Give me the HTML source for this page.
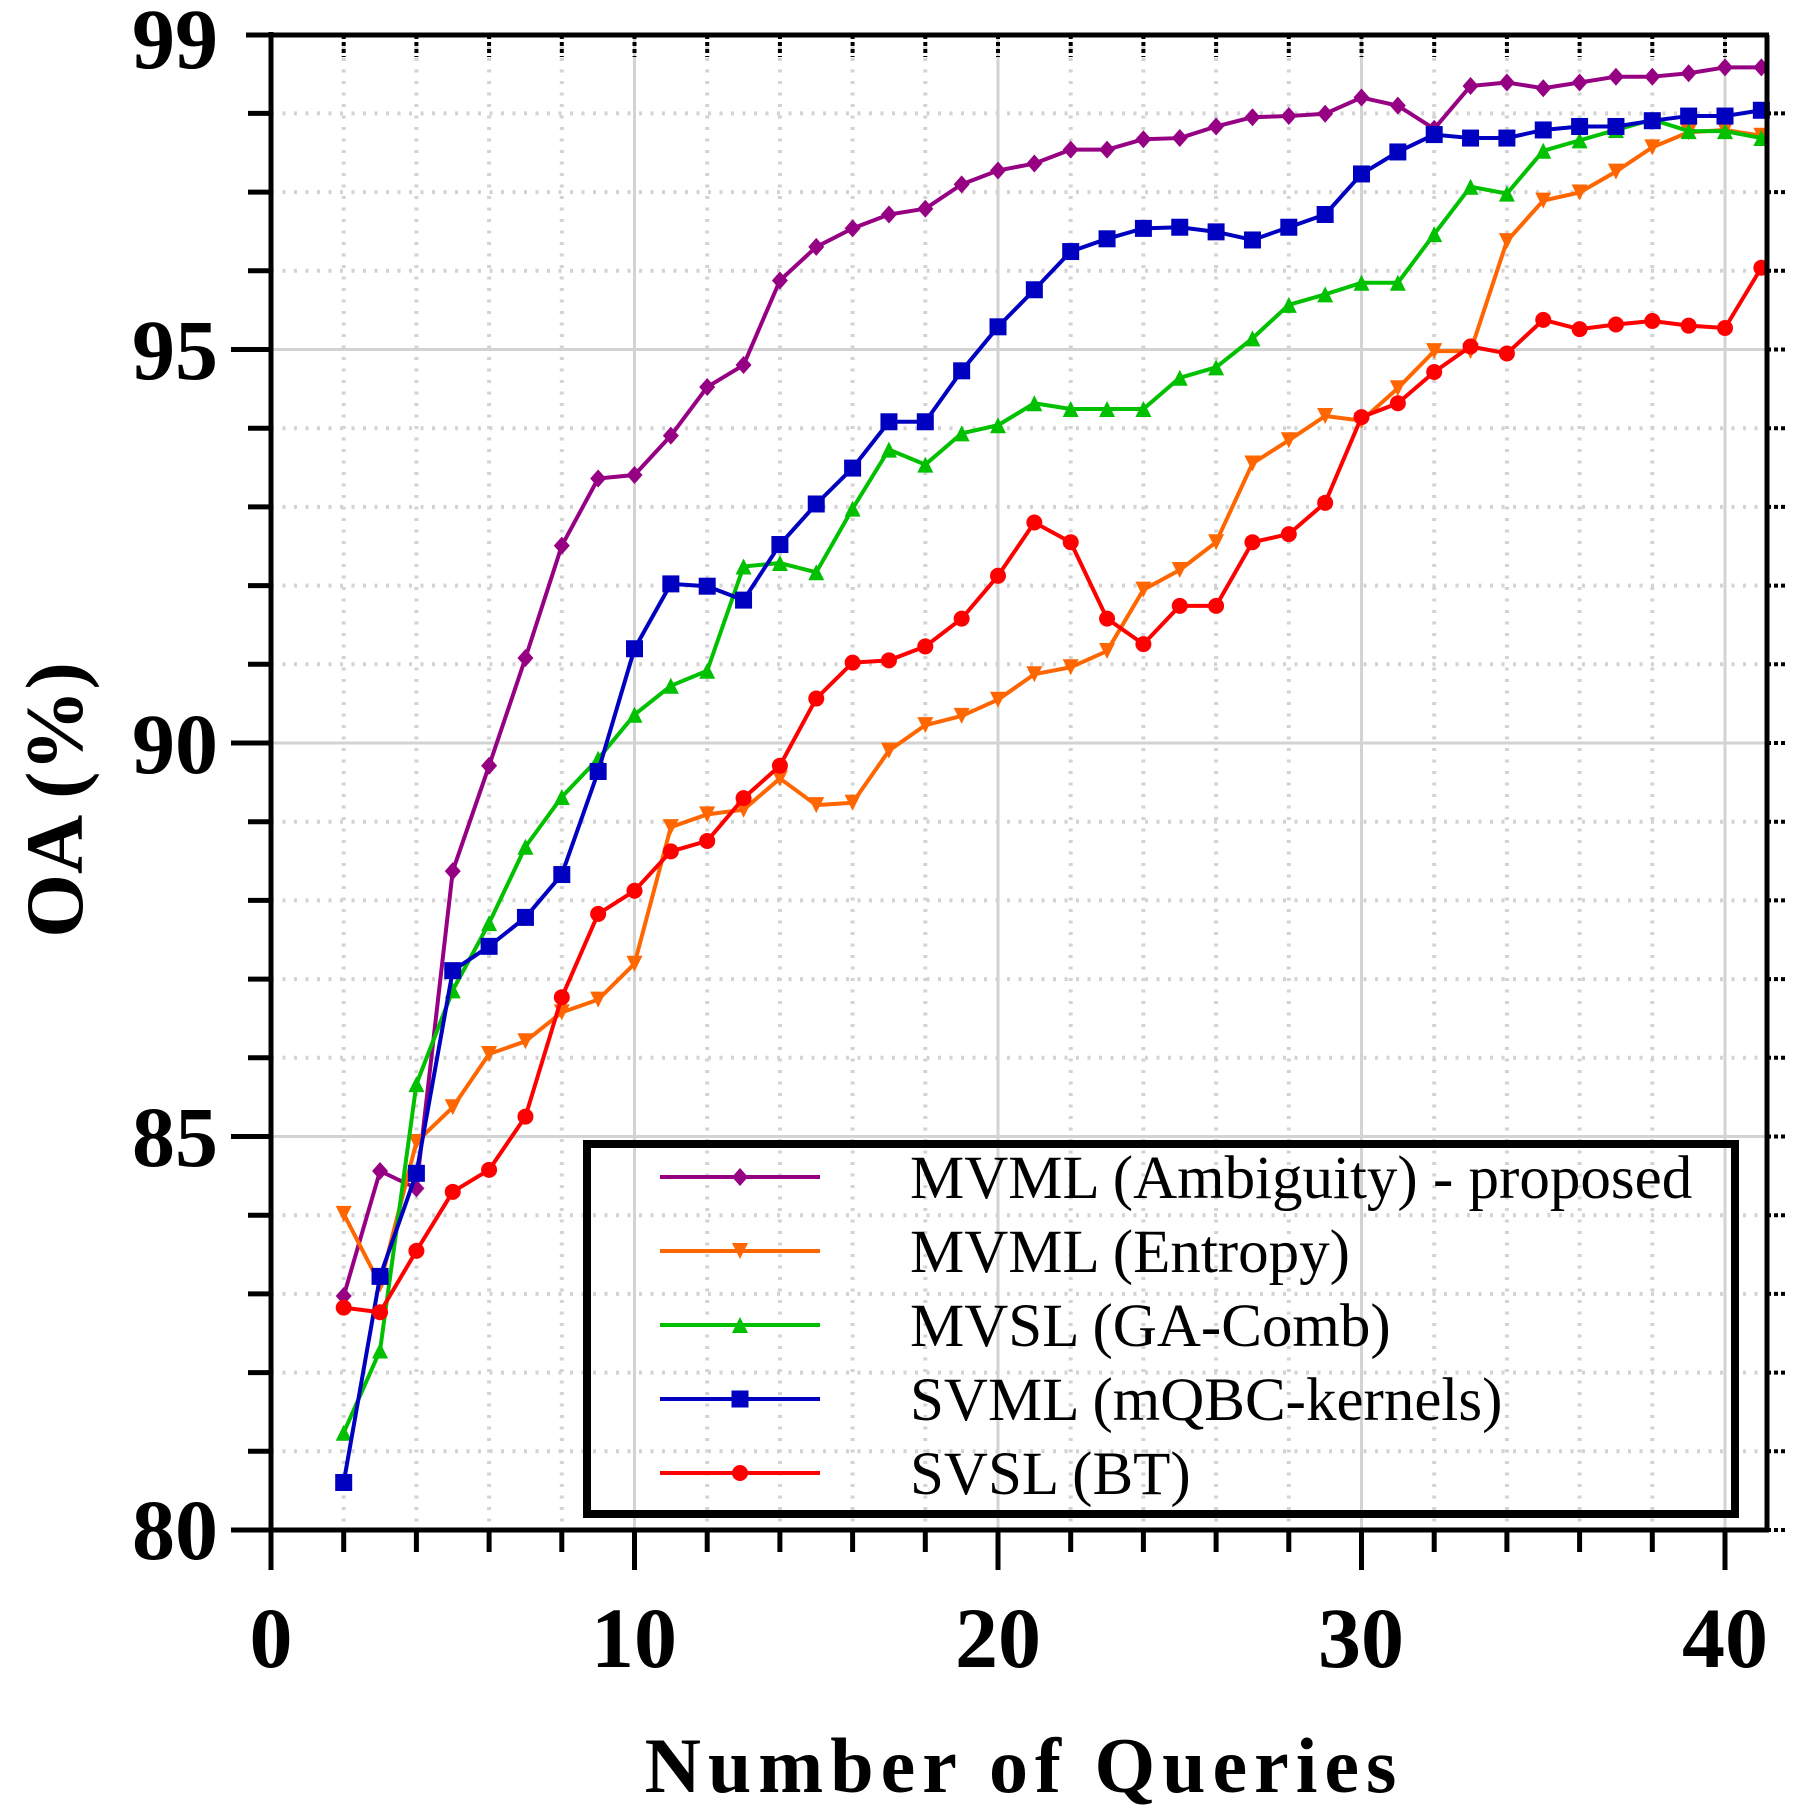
<!DOCTYPE html>
<html><head><meta charset="utf-8"><style>
html,body{margin:0;padding:0;background:#fff;}
svg{display:block;}
</style></head><body>
<svg id="c" xmlns="http://www.w3.org/2000/svg" width="1800" height="1813" viewBox="0 0 1800 1813">
<rect width="1800" height="1813" fill="#fff"/>
<g id="grid"></g>
<g id="series"></g>
<g id="axes"></g>
<g id="legend"></g>
<g font-family="Liberation Serif, serif" font-weight="bold" font-size="86" fill="#000">
<text x="218" y="68" text-anchor="end">99</text>
<text x="218" y="379" text-anchor="end">95</text>
<text x="218" y="773" text-anchor="end">90</text>
<text x="218" y="1166" text-anchor="end">85</text>
<text x="218" y="1559" text-anchor="end">80</text>
<text x="271" y="1667" text-anchor="middle">0</text>
<text x="634" y="1667" text-anchor="middle">10</text>
<text x="998" y="1667" text-anchor="middle">20</text>
<text x="1361" y="1667" text-anchor="middle">30</text>
<text x="1725" y="1667" text-anchor="middle">40</text>
<text x="1024" y="1792" text-anchor="middle" font-size="78" letter-spacing="7">Number of Queries</text>
<text transform="translate(82,800) rotate(-90)" text-anchor="middle" font-size="82">OA (%)</text>
</g>
<g font-family="Liberation Serif, serif" font-size="61" fill="#000">
<text x="910" y="1198">MVML (Ambiguity) - proposed</text>
<text x="910" y="1272">MVML (Entropy)</text>
<text x="910" y="1346">MVSL (GA-Comb)</text>
<text x="910" y="1420">SVML (mQBC-kernels)</text>
<text x="910" y="1494">SVSL (BT)</text>
</g>
</svg>
<script>
var NS="http://www.w3.org/2000/svg";
function X(v){return 271+v*36.35;}
function Y(v){return 1530-(v-80)*78.7;}
function Yd(d){return 35+(d-31)*1.158;}
function el(p,t,a){var e=document.createElementNS(NS,t);for(var k in a)e.setAttribute(k,a[k]);p.appendChild(e);return e;}
var g=document.getElementById('grid'),ax=document.getElementById('axes'),s=document.getElementById('series'),lg=document.getElementById('legend');
var L=271,R=1767,T=35,B=1530;
for(var v=81;v<99;v++){ if(v%5==0) el(g,'line',{x1:L,x2:R,y1:Y(v),y2:Y(v),stroke:'#d3d3d3','stroke-width':3});
 else el(g,'line',{x1:L,x2:R,y1:Y(v),y2:Y(v),stroke:'#d3d3d3','stroke-width':4,'stroke-dasharray':'3 8.5','stroke-linecap':'butt'});}
for(var v=2;v<=40;v+=2){ if(v%10==0) el(g,'line',{x1:X(v),x2:X(v),y1:T,y2:B,stroke:'#d3d3d3','stroke-width':3});
 else el(g,'line',{x1:X(v),x2:X(v),y1:T,y2:B,stroke:'#d3d3d3','stroke-width':4,'stroke-dasharray':'3 8.5'});}
el(ax,'line',{x1:L,x2:L,y1:T-3,y2:B+2,stroke:'#000','stroke-width':5});
el(ax,'line',{x1:L-25,x2:R+2,y1:T,y2:T,stroke:'#000','stroke-width':5});
el(ax,'line',{x1:L-2,x2:R+2,y1:B,y2:B,stroke:'#000','stroke-width':5});
el(ax,'line',{x1:R,x2:R,y1:T,y2:B+2,stroke:'#000','stroke-width':5});
for(var v=80;v<99;v++){var maj=v%5==0;el(ax,'line',{x1:maj?L-40:L-23,x2:L,y1:Y(v),y2:Y(v),stroke:'#000','stroke-width':5});
 el(ax,'line',{x1:R,x2:R+18,y1:Y(v),y2:Y(v),stroke:'#000','stroke-width':4,'stroke-dasharray':'4 3'});}
for(var v=0;v<=40;v+=2){var maj=v%10==0;el(ax,'line',{x1:X(v),x2:X(v),y1:B,y2:maj?B+40:B+22,stroke:'#000','stroke-width':5});
 if(v>0&&v<41) el(ax,'line',{x1:X(v),x2:X(v),y1:T,y2:T+22,stroke:'#000','stroke-width':4,'stroke-dasharray':'4 3'});}
var data=[
{c:'#960082',m:'d',y:[1120,1012,1027,753,662,569,472,414,411,377,335,316,243,214,198,186,181,160,148,142,130,130,121,120,110,102,101,99,85,92,112,75,72,77,72,67,67,64,59,59]},
{c:'#ff6600',m:'v',y:[1049,1110,987,957,911,900,875,864,833,715,704,700,673,696,694,649,627,619,605,583,577,563,510,493,469,401,381,360,364,336,304,304,209,174,167,149,128,115,113,118]},
{c:'#00c000',m:'^',y:[1238,1167,937,856,798,732,689,656,618,593,580,490,487,495,440,389,402,375,368,349,354,354,354,327,318,293,264,255,245,245,203,162,168,131,122,113,104,114,114,120]},
{c:'#0000c0',m:'s',y:[1281,1103,1014,839,818,793,756,667,561,505,507,519,471,436,405,365,365,321,283,251,218,207,198,197,201,208,197,186,151,132,117,120,120,113,110,110,105,101,101,96]},
{c:'#ff0000',m:'o',y:[1130,1134,1081,1030,1011,965,862,790,770,736,727,690,662,604,573,571,559,535,498,452,469,535,557,524,524,469,462,435,361,349,322,300,306,277,285,281,278,282,284,232]}
];
function marker(p,m,x,y,c){
 if(m=='d')el(p,'polygon',{points:(x)+','+(y-9)+' '+(x+8)+','+y+' '+x+','+(y+9)+' '+(x-8)+','+y,fill:c});
 else if(m=='v')el(p,'polygon',{points:(x-8)+','+(y-8)+' '+(x+8)+','+(y-8)+' '+x+','+(y+8),fill:c});
 else if(m=='^')el(p,'polygon',{points:(x-8)+','+(y+8)+' '+(x+8)+','+(y+8)+' '+x+','+(y-8),fill:c});
 else if(m=='s')el(p,'rect',{x:x-8.5,y:y-8.5,width:17,height:17,fill:c});
 else el(p,'circle',{cx:x,cy:y,r:8,fill:c});
}
data.forEach(function(d,i){
 var pts=d.y.map(function(v,j){return [X(j+2),Yd(v)];});
 el(s,'polyline',{points:pts.map(function(p){return p.join(',')}).join(' '),fill:'none',stroke:d.c,'stroke-width':4,'stroke-linejoin':'round'});
 pts.forEach(function(p){marker(s,d.m,p[0],p[1],d.c);});
 var ly=1177+74*i;
 el(lg,'line',{x1:660,x2:820,y1:ly,y2:ly,stroke:d.c,'stroke-width':4});
 marker(lg,d.m,740,ly,d.c);
});
el(lg,'rect',{x:587,y:1144,width:1148,height:370,fill:'none',stroke:'#000','stroke-width':8});
</script>
</body></html>
